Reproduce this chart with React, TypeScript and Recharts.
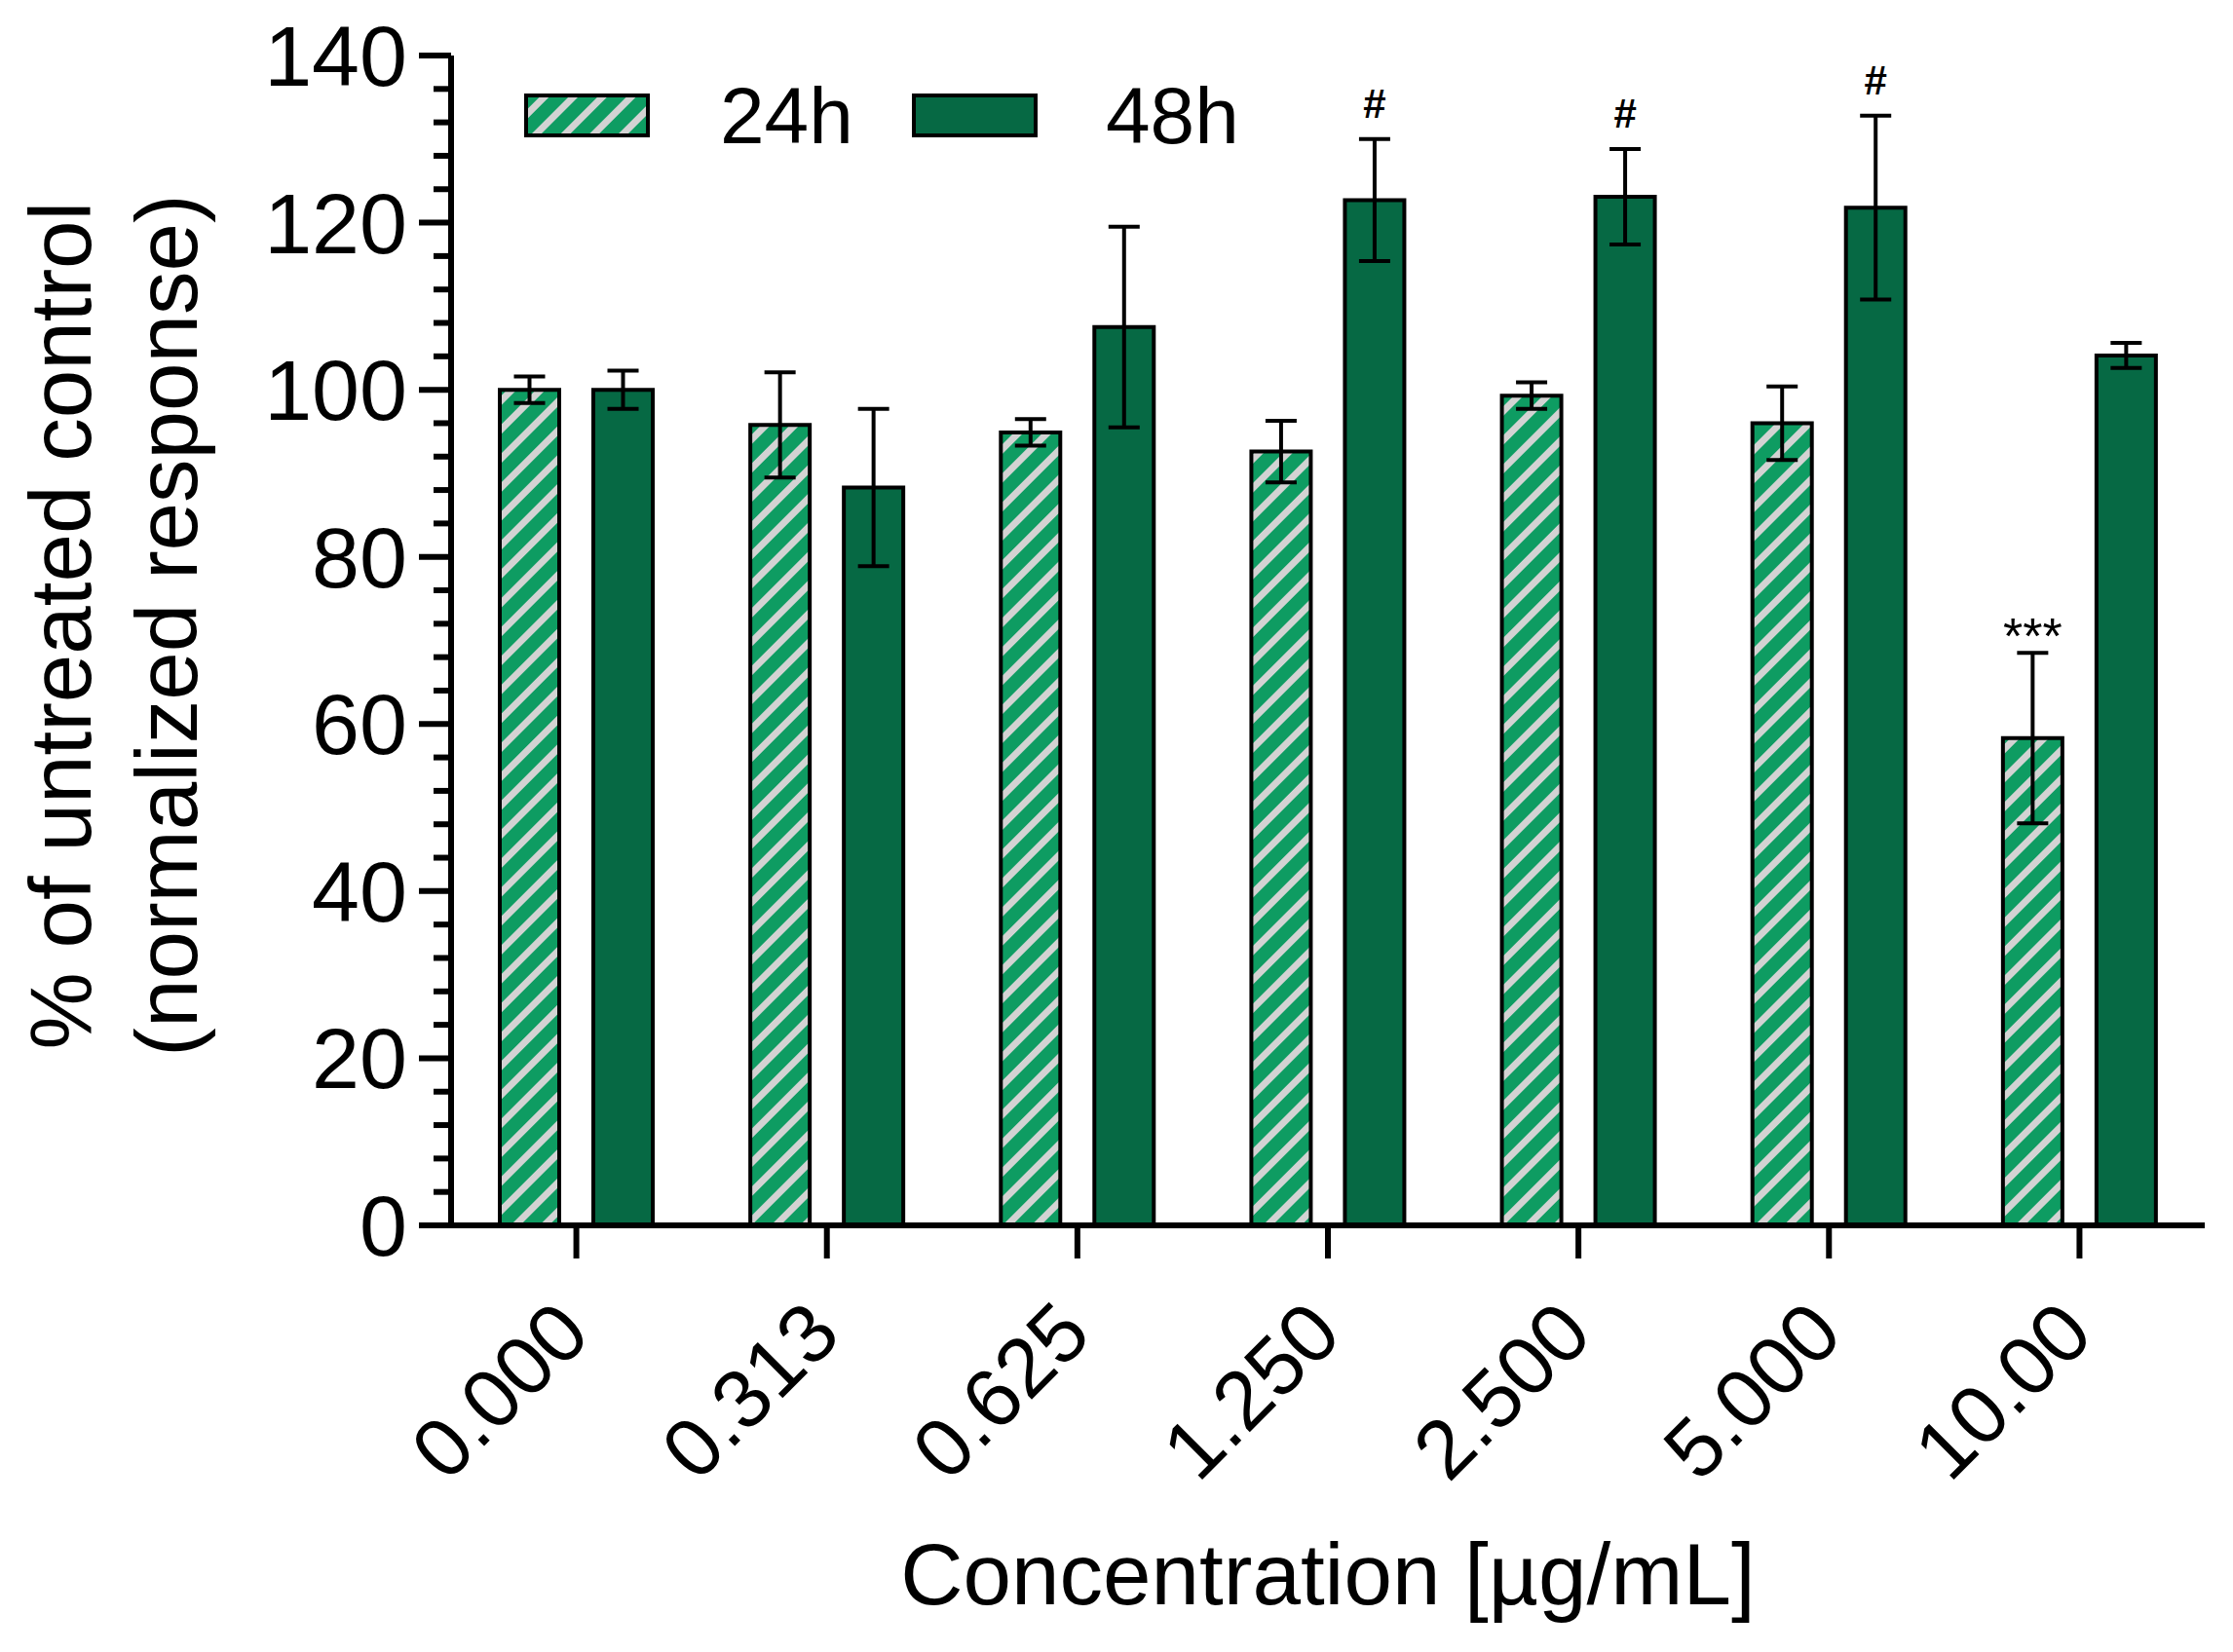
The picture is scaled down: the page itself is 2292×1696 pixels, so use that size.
import React from "react";
import {
  BarChart,
  Bar,
  XAxis,
  YAxis,
  ErrorBar,
  LabelList,
  Label,
  Legend,
} from "recharts";

// values (mean ± SD, % of untreated control)
const concentrations = ["0.000", "0.313", "0.625", "1.250", "2.500", "5.000", "10.00"];
const mean24h = [100, 95.8, 94.9, 92.6, 99.3, 96.0, 58.3];
const sd24h = [1.6, 6.3, 1.6, 3.7, 1.6, 4.4, 10.2];
const mean48h = [100, 88.3, 107.5, 122.7, 123.1, 121.8, 104.1];
const sd48h = [2.3, 9.4, 12.0, 7.3, 5.7, 11.0, 1.5];
const sig24h = ["", "", "", "", "", "", "***"];
const sig48h = ["", "", "", "#", "#", "#", ""];
const yTicks = Array.from({ length: 36 }, (_, i) => i * 4);
const seriesNames = ["24h", "48h"];

const FONT = '"Liberation Sans", Arial, Helvetica, sans-serif';
const LIGHT_GREEN = "#0e9c62";
const STRIPE = "#d3d3d3";
const DARK_GREEN = "#066944";

const rows = concentrations.map((c, i) => ({
  conc: c,
  m24: mean24h[i],
  e24: sd24h[i],
  s24: sig24h[i],
  m48: mean48h[i],
  e48: sd48h[i],
  s48: sig48h[i],
}));

const HatchDef = ({ id }: { id: string }) => (
  <pattern
    id={id}
    patternUnits="userSpaceOnUse"
    width={21}
    height={21}
    patternTransform="rotate(45)"
  >
    <rect x={0} y={0} width={21} height={21} fill={LIGHT_GREEN} />
    <rect x={0} y={0} width={7} height={21} fill={STRIPE} />
  </pattern>
);

const YTick = ({ x, y, payload }: any) => {
  const major = payload.value % 20 === 0;
  return (
    <g>
      <line
        x1={x - (major ? 33 : 18)}
        x2={x}
        y1={y}
        y2={y}
        stroke="#000"
        strokeWidth={6}
      />
      {major && (
        <text
          x={x - 45}
          y={y + 31}
          textAnchor="end"
          fontSize={88}
          fontFamily={FONT}
          fill="#000"
        >
          {payload.value}
        </text>
      )}
    </g>
  );
};

const XTick = ({ x, y, payload }: any) => {
  const ax = x + 17;
  const ay = y + 81;
  return (
    <text
      x={ax}
      y={ay}
      transform={`rotate(-45, ${ax}, ${ay})`}
      textAnchor="end"
      fontSize={85}
      fontFamily={FONT}
      fill="#000"
    >
      {payload.value}
    </text>
  );
};

// significance marks sit above the error bar cap
const makeSigLabel = (means: number[], sds: number[]) => (props: any) => {
  const { x, y, width, height, value, index } = props;
  if (!value) return null;
  const perUnit = height / means[index];
  const capY = y - sds[index] * perUnit;
  const star = String(value).startsWith("*");
  const size = star ? 52 : 42;
  return (
    <text
      x={x + width / 2}
      y={capY - 22 + (star ? 0.43 * size : 0)}
      textAnchor="middle"
      fontSize={size}
      fontWeight={star ? "normal" : "bold"}
      fontFamily={FONT}
      fill="#000"
    >
      {value}
    </text>
  );
};

const LegendBox = () => (
  <svg width={2292} height={180} style={{ display: "block" }}>
    <defs>
      <HatchDef id="hatchLegend" />
    </defs>
    {seriesNames.map((name, i) => {
      const bx = i === 0 ? 540 : 938;
      const tx = i === 0 ? 739 : 1135;
      return (
        <g key={name}>
          <rect
            x={bx}
            y={98}
            width={125}
            height={41}
            fill={i === 0 ? "url(#hatchLegend)" : DARK_GREEN}
            stroke="#000"
            strokeWidth={4}
          />
          <text x={tx} y={147} fontSize={82} fontFamily={FONT} fill="#000">
            {name}
          </text>
        </g>
      );
    })}
  </svg>
);

const YAxisTitle = () => {
  const cy = 642;
  return (
    <g>
      <text
        x={93}
        y={cy}
        transform={`rotate(-90, 93, ${cy})`}
        textAnchor="middle"
        fontSize={89}
        fontFamily={FONT}
        fill="#000"
      >
        % of untreated control
      </text>
      <text
        x={202}
        y={cy}
        transform={`rotate(-90, 202, ${cy})`}
        textAnchor="middle"
        fontSize={89}
        fontFamily={FONT}
        fill="#000"
      >
        (normalized response)
      </text>
    </g>
  );
};

const XAxisTitle = (props: any) => {
  const vb = props.viewBox;
  return (
    <text
      x={vb.x + vb.width / 2}
      y={vb.y + 389}
      textAnchor="middle"
      fontSize={89}
      fontFamily={FONT}
      fill="#000"
    >
      Concentration [µg/mL]
    </text>
  );
};

export default function App() {
  return (
    <div
      style={{
        position: "fixed",
        left: 0,
        top: 0,
        width: 2292,
        height: 1696,
        background: "#fff",
      }}
    >
      <BarChart
        width={2292}
        height={1696}
        data={rows}
        margin={{ top: 57, right: 29, left: 0, bottom: 0 }}
        barSize={61}
        barGap={35}
      >
        <defs>
          <HatchDef id="hatch24" />
        </defs>
        <XAxis
          dataKey="conc"
          height={438}
          interval={0}
          tickSize={34}
          tickMargin={0}
          tickLine={{ stroke: "#000", strokeWidth: 6 }}
          axisLine={{ stroke: "#000", strokeWidth: 6 }}
          tick={<XTick />}
        >
          <Label content={<XAxisTitle />} />
        </XAxis>
        <YAxis
          width={463}
          domain={[0, 140]}
          ticks={yTicks}
          interval={0}
          tickSize={0}
          tickMargin={0}
          tickLine={false}
          axisLine={{ stroke: "#000", strokeWidth: 6 }}
          tick={<YTick />}
        >
          <Label content={<YAxisTitle />} />
        </YAxis>
        <Legend
          layout="horizontal"
          verticalAlign="middle"
          align="center"
          wrapperStyle={{ position: "absolute", left: 0, top: 0, width: 2292 }}
          content={<LegendBox />}
        />
        <Bar
          dataKey="m24"
          name="24h"
          fill="url(#hatch24)"
          stroke="#000"
          strokeWidth={4}
          isAnimationActive={false}
        >
          <ErrorBar
            dataKey="e24"
            direction="y"
            width={16}
            stroke="#000"
            strokeWidth={4}
            isAnimationActive={false}
          />
          <LabelList dataKey="s24" content={makeSigLabel(mean24h, sd24h)} />
        </Bar>
        <Bar
          dataKey="m48"
          name="48h"
          fill={DARK_GREEN}
          stroke="#000"
          strokeWidth={4}
          isAnimationActive={false}
        >
          <ErrorBar
            dataKey="e48"
            direction="y"
            width={16}
            stroke="#000"
            strokeWidth={4}
            isAnimationActive={false}
          />
          <LabelList dataKey="s48" content={makeSigLabel(mean48h, sd48h)} />
        </Bar>
      </BarChart>
    </div>
  );
}
